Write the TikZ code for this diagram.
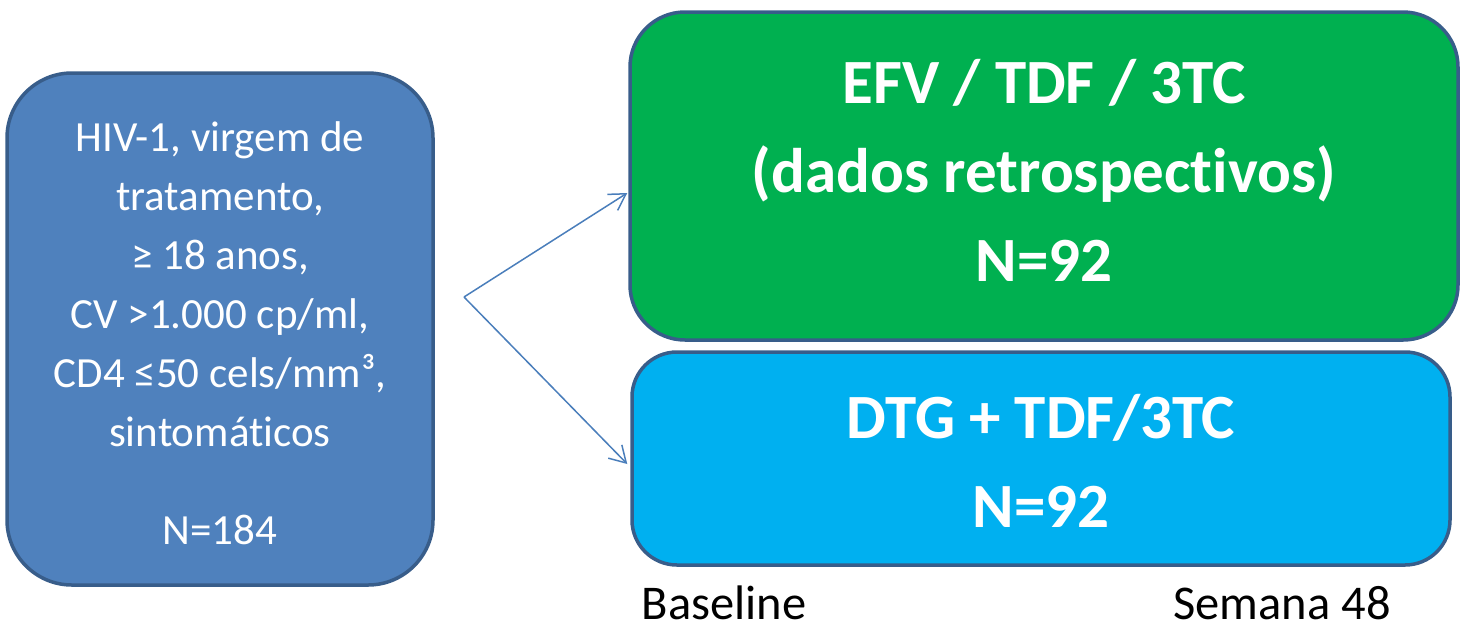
\documentclass[tikz,border=0pt]{standalone}
\usepackage{fontspec}
\setmainfont{Carlito}[Ligatures={NoCommon}]
\usetikzlibrary{arrows.meta}
\definecolor{bordercol}{HTML}{385D8A}
\definecolor{leftfill}{HTML}{4F81BD}
\definecolor{greenfill}{HTML}{00B050}
\definecolor{bluefill}{HTML}{00B0F0}
\definecolor{arrowcol}{HTML}{4A7EBB}
\tikzset{
  boxbase/.style={draw=bordercol, line width=3.5pt, inner sep=0pt},
  lefttxt/.style={text=white, align=center, font=\fontsize{43}{59}\selectfont, inner sep=0pt},
  bigtxt/.style={text=white, align=center, font=\fontsize{63}{89}\bfseries\selectfont, inner sep=0pt},
  labeltxt/.style={text=black, font=\fontsize{48.5}{56}\selectfont, inner sep=0pt, anchor=base},
  conn/.style={draw=arrowcol, line width=1.5pt, -{Straight Barb[length=16pt,width=19pt,line width=1.5pt]}}
}
\begin{document}
\begin{tikzpicture}[x=1pt,y=-1pt]
\useasboundingbox (0,0) rectangle (1469,625);
% boxes
\node[boxbase, fill=leftfill, rounded corners=65pt, minimum width=426pt, minimum height=512pt] (left) at (220,329) {};
\node[boxbase, fill=greenfill, rounded corners=55pt, minimum width=828pt, minimum height=328pt] (green) at (1044,176) {};
\node[boxbase, fill=bluefill, rounded corners=45pt, minimum width=818pt, minimum height=213pt] (blue) at (1041,458.5) {};
% texts
\node[lefttxt] (lefttext) at (220,333) {HIV-1, virgem de\\tratamento,\\≥ 18 anos,\\CV >1.000 cp/ml,\\CD4 ≤50 cels/mm³,\\sintomáticos\\[39pt]N=184};
\node[bigtxt] (greentext) at (1044,170) {EFV / TDF / 3TC\\(dados retrospectivos)\\N=92};
\node[bigtxt] (bluetext) at (1041,461) {DTG + TDF/3TC\\N=92};
\node[labeltxt] (baseline) at (724,619) {Baseline};
\node[labeltxt] (semana) at (1282,619) {Semana 48};
% connectors
\coordinate (split) at (464,297);
\draw[conn] (split) -- ([xshift=-1pt,yshift=-17pt]green.west);
\draw[conn] (split) -- ([xshift=-3pt,yshift=-5.5pt]blue.west);
\end{tikzpicture}
\end{document}
